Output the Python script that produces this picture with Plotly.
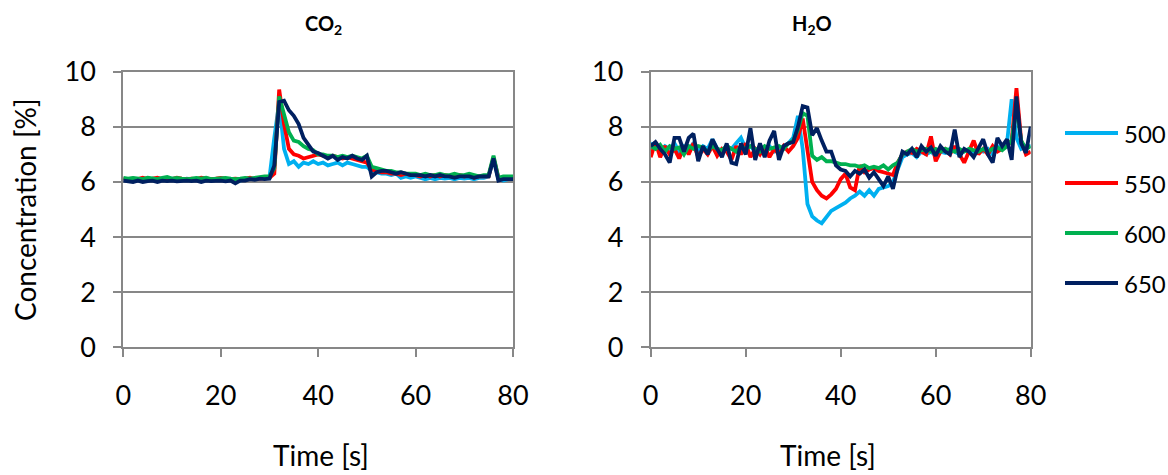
import plotly.graph_objects as go

# Time axis (s)
time_s = list(range(0, 81))

series_names = ["500", "550", "600", "650"]
series_colors = ["#00B0F0", "#FF0000", "#00B050", "#002060"]

# CO2 concentration [%]
co2_500 = [
    6.10, 6.08, 6.10, 6.07, 6.10, 6.08, 6.12, 6.08, 6.10, 6.07,
    6.12, 6.10, 6.08, 6.12, 6.10, 6.08, 6.10, 6.12, 6.08, 6.10,
    6.10, 6.08, 6.12, 6.08, 6.05, 6.10, 6.12, 6.10, 6.12, 6.15,
    6.15, 7.60, 8.90, 7.20, 6.65, 6.75, 6.55, 6.70, 6.65, 6.75,
    6.65, 6.70, 6.60, 6.65, 6.70, 6.60, 6.70, 6.65, 6.60, 6.55,
    6.55, 6.40, 6.35, 6.30, 6.30, 6.25, 6.30, 6.15, 6.20, 6.15,
    6.20, 6.15, 6.10, 6.15, 6.10, 6.15, 6.12, 6.15, 6.10, 6.15,
    6.12, 6.15, 6.10, 6.15, 6.15, 6.20, 6.85, 6.10, 6.05, 6.10,
    6.10,
]
co2_550 = [
    6.12, 6.10, 6.12, 6.10, 6.15, 6.10, 6.12, 6.15, 6.10, 6.12,
    6.10, 6.15, 6.12, 6.10, 6.12, 6.10, 6.15, 6.12, 6.10, 6.12,
    6.15, 6.12, 6.10, 6.12, 6.10, 6.12, 6.15, 6.10, 6.12, 6.15,
    6.15, 6.30, 9.35, 8.10, 7.20, 7.00, 6.95, 6.85, 6.90, 6.95,
    7.00, 6.95, 6.90, 6.95, 6.90, 6.85, 6.90, 6.85, 6.80, 6.75,
    6.70, 6.45, 6.40, 6.35, 6.35, 6.30, 6.30, 6.25, 6.30, 6.25,
    6.25, 6.20, 6.25, 6.20, 6.25, 6.20, 6.25, 6.20, 6.20, 6.25,
    6.20, 6.25, 6.15, 6.20, 6.20, 6.20, 6.90, 6.15, 6.15, 6.15,
    6.15,
]
co2_600 = [
    6.15, 6.12, 6.15, 6.12, 6.10, 6.15, 6.12, 6.10, 6.15, 6.18,
    6.12, 6.15, 6.12, 6.10, 6.12, 6.15, 6.12, 6.15, 6.10, 6.12,
    6.12, 6.15, 6.12, 6.10, 6.12, 6.15, 6.12, 6.15, 6.18, 6.20,
    6.20, 6.50, 9.10, 8.50, 7.80, 7.50, 7.45, 7.30, 7.20, 7.15,
    7.00, 7.00, 6.95, 6.95, 6.90, 6.95, 6.90, 6.95, 6.90, 6.85,
    6.95, 6.55, 6.50, 6.45, 6.40, 6.40, 6.35, 6.35, 6.30, 6.30,
    6.30, 6.25, 6.30, 6.25, 6.25, 6.30, 6.25, 6.25, 6.30, 6.25,
    6.25, 6.30, 6.25, 6.20, 6.25, 6.25, 6.95, 6.15, 6.20, 6.20,
    6.20,
]
co2_650 = [
    6.05, 6.02, 6.00, 6.05, 6.00, 6.03, 6.05, 6.00, 6.05, 6.03,
    6.05, 6.02, 6.05, 6.05, 6.03, 6.05, 6.00, 6.05, 6.03, 6.05,
    6.05, 6.02, 6.05, 5.95, 6.05, 6.05, 6.10, 6.08, 6.12, 6.10,
    6.12, 6.60, 8.90, 8.95, 8.60, 8.40, 8.10, 7.60, 7.35, 7.10,
    7.05, 6.95, 6.85, 6.95, 6.80, 6.90, 6.85, 6.95, 6.85, 6.80,
    6.95, 6.20, 6.35, 6.40, 6.40, 6.35, 6.30, 6.35, 6.30, 6.25,
    6.25, 6.25, 6.20, 6.25, 6.20, 6.25, 6.20, 6.20, 6.15, 6.20,
    6.20, 6.20, 6.15, 6.20, 6.20, 6.20, 6.85, 6.05, 6.10, 6.10,
    6.10,
]

# H2O concentration [%]
h2o_500 = [
    7.40, 7.30, 7.10, 7.30, 7.20, 7.40, 7.10, 7.30, 7.20, 7.40,
    7.10, 7.30, 7.20, 7.55, 7.20, 7.10, 7.30, 7.20, 7.40, 7.60,
    7.20, 7.30, 7.10, 7.30, 7.20, 7.30, 7.10, 7.20, 7.30, 7.40,
    7.60, 8.40, 7.20, 5.20, 4.75, 4.60, 4.50, 4.75, 4.95, 5.05,
    5.15, 5.25, 5.40, 5.50, 5.65, 5.50, 5.70, 5.50, 5.75, 5.80,
    5.85, 6.00, 6.50, 6.90, 7.00, 7.05, 6.90, 7.10, 7.00, 7.10,
    6.95, 7.10, 7.05, 7.20, 7.10, 7.00, 7.15, 7.10, 7.05, 7.20,
    7.10, 7.20, 7.00, 7.30, 7.20, 7.40, 9.00, 7.60, 7.20, 7.30,
    7.30,
]
h2o_550 = [
    6.90, 7.45, 6.90, 7.30, 7.00, 7.20, 6.85, 7.30, 7.00, 7.40,
    6.90, 7.20, 7.00, 7.30, 6.95, 7.20, 7.10, 6.80, 7.30, 7.00,
    7.40, 6.90, 7.20, 7.00, 7.30, 6.90, 7.20, 7.00, 7.30, 7.10,
    7.30, 7.60, 8.30, 7.20, 6.00, 5.70, 5.50, 5.40, 5.55, 5.75,
    6.10, 6.30, 5.80, 5.70, 6.60, 6.35, 6.45, 6.50, 6.40, 6.35,
    6.30, 6.25, 6.70, 7.00, 7.10, 7.05, 7.20, 7.10, 7.00, 7.65,
    6.75, 7.10, 7.20, 7.00, 7.30, 7.00, 6.70, 7.10, 7.50, 7.00,
    7.20, 7.00, 7.30, 7.10, 7.20, 7.30, 7.50, 9.40, 7.50, 7.00,
    7.10,
]
h2o_600 = [
    7.30, 7.20, 7.35, 7.10, 7.30, 7.20, 7.25, 7.00, 7.30, 7.20,
    7.30, 7.25, 7.10, 7.30, 7.20, 7.15, 7.30, 7.20, 7.10, 7.30,
    7.20, 7.30, 7.20, 7.10, 7.30, 7.20, 7.25, 7.30, 7.20, 7.40,
    7.50, 7.90, 8.50, 8.40, 6.95, 6.80, 6.90, 6.75, 6.75, 6.70,
    6.65, 6.65, 6.60, 6.60, 6.55, 6.60, 6.50, 6.55, 6.50, 6.60,
    6.45, 6.60, 6.70, 7.00, 7.10, 7.20, 7.10, 7.15, 7.20, 7.10,
    7.20, 7.10, 7.20, 7.15, 7.10, 7.20, 7.10, 7.20, 7.15, 7.10,
    7.20, 7.10, 7.20, 7.25, 7.15, 7.30, 7.50, 8.70, 7.50, 7.20,
    7.30,
]
h2o_650 = [
    7.30, 7.45, 7.20, 7.00, 6.70, 7.60, 7.60, 7.10, 7.60, 7.75,
    6.75, 7.30, 7.00, 7.55, 7.20, 6.90, 7.40, 6.70, 6.65, 7.40,
    7.00, 7.95, 6.80, 7.40, 6.90, 7.50, 7.85, 6.80, 7.30, 7.40,
    7.45, 8.00, 8.75, 8.70, 7.70, 7.95, 7.50, 7.10, 7.10, 6.60,
    6.45, 6.40, 6.20, 6.40, 6.30, 6.45, 6.15, 6.35, 6.10, 5.85,
    6.20, 5.75, 6.50, 7.10, 7.00, 7.20, 6.90, 7.30, 7.10, 7.25,
    6.95, 7.30, 7.10, 7.00, 7.90, 6.90, 7.20, 7.10, 6.90, 7.20,
    7.55, 7.00, 6.70, 7.60, 7.30, 7.55, 6.80, 9.10, 7.40, 7.05,
    8.00,
]

co2_series = [co2_500, co2_550, co2_600, co2_650]
h2o_series = [h2o_500, h2o_550, h2o_600, h2o_650]

x_ticks = [0, 20, 40, 60, 80]
y_ticks = [0, 2, 4, 6, 8, 10]

W, H = 1168, 475
FONT = "Lato"
GRID = "#878787"


def px_x(p):
    return p / W


def px_y(p):
    return 1 - p / H


fig = go.Figure()

for name, color, ys in zip(series_names, series_colors, co2_series):
    fig.add_trace(go.Scatter(x=time_s, y=ys, mode="lines", name=name,
                             line=dict(color=color, width=3.8),
                             xaxis="x", yaxis="y", showlegend=False))
for name, color, ys in zip(series_names, series_colors, h2o_series):
    fig.add_trace(go.Scatter(x=time_s, y=ys, mode="lines", name=name,
                             line=dict(color=color, width=3.8),
                             xaxis="x2", yaxis="y2", showlegend=False))

y_dom = [px_y(347.3), px_y(71.7)]

common_x = dict(range=[0, 80], tickvals=x_ticks, showgrid=False, zeroline=False,
                showline=True, linecolor=GRID, linewidth=2, mirror=True,
                ticks="outside", ticklen=8, tickwidth=2, tickcolor=GRID,
                ticklabelstandoff=15, automargin=False,
                tickfont=dict(family=FONT, size=27, color="#000"))
common_y = dict(range=[0, 10], tickvals=y_ticks, showgrid=True, gridcolor=GRID,
                gridwidth=1.5, zeroline=False,
                showline=True, linecolor=GRID, linewidth=2, mirror=True,
                ticks="outside", ticklen=8, tickwidth=2, tickcolor=GRID,
                ticklabelstandoff=12, automargin=False,
                tickfont=dict(family=FONT, size=27, color="#000"))

fig.update_layout(
    width=W, height=H,
    margin=dict(l=0, r=0, t=0, b=0, autoexpand=False),
    paper_bgcolor="white", plot_bgcolor="white",
    showlegend=False,
    xaxis=dict(domain=[px_x(123.3), px_x(513)], anchor="y", **common_x),
    yaxis=dict(domain=y_dom, anchor="x", **common_y),
    xaxis2=dict(domain=[px_x(650.7), px_x(1030.7)], anchor="y2", **common_x),
    yaxis2=dict(domain=y_dom, anchor="x2", **common_y),
)

annotations = [
    dict(text="<b>CO<sub>2</sub></b>", x=px_x(323), y=px_y(25)),
    dict(text="<b>H<sub>2</sub>O</b>", x=px_x(812), y=px_y(25)),
]
for a in annotations:
    a.update(xref="paper", yref="paper", showarrow=False,
             xanchor="center", yanchor="middle",
             font=dict(family=FONT, size=20, color="#000"))

axis_title_font = dict(family=FONT, size=28, color="#000")
annotations += [
    dict(text="Time [s]", x=px_x(321), y=px_y(455), xref="paper", yref="paper",
         showarrow=False, xanchor="center", yanchor="middle",
         font=axis_title_font),
    dict(text="Time [s]", x=px_x(828), y=px_y(455), xref="paper", yref="paper",
         showarrow=False, xanchor="center", yanchor="middle",
         font=axis_title_font),
    dict(text="Concentration [%]", x=px_x(25), y=px_y(210), xref="paper",
         yref="paper", showarrow=False, xanchor="center", yanchor="middle",
         textangle=-90, font=axis_title_font),
]

# Legend: coloured line sample followed by the series label
shapes = []
legend_top = 133
legend_step = 50
for i, (name, color) in enumerate(zip(series_names, series_colors)):
    yc = legend_top + i * legend_step
    shapes.append(dict(type="line", xref="paper", yref="paper",
                       x0=px_x(1065), x1=px_x(1118), y0=px_y(yc), y1=px_y(yc),
                       line=dict(color=color, width=3.8)))
    annotations.append(dict(text=name, x=px_x(1122), y=px_y(yc), xref="paper",
                            yref="paper", showarrow=False, xanchor="left",
                            yanchor="middle",
                            font=dict(family=FONT, size=24, color="#000")))

fig.update_layout(annotations=annotations, shapes=shapes)

fig.write_html("out.html")
